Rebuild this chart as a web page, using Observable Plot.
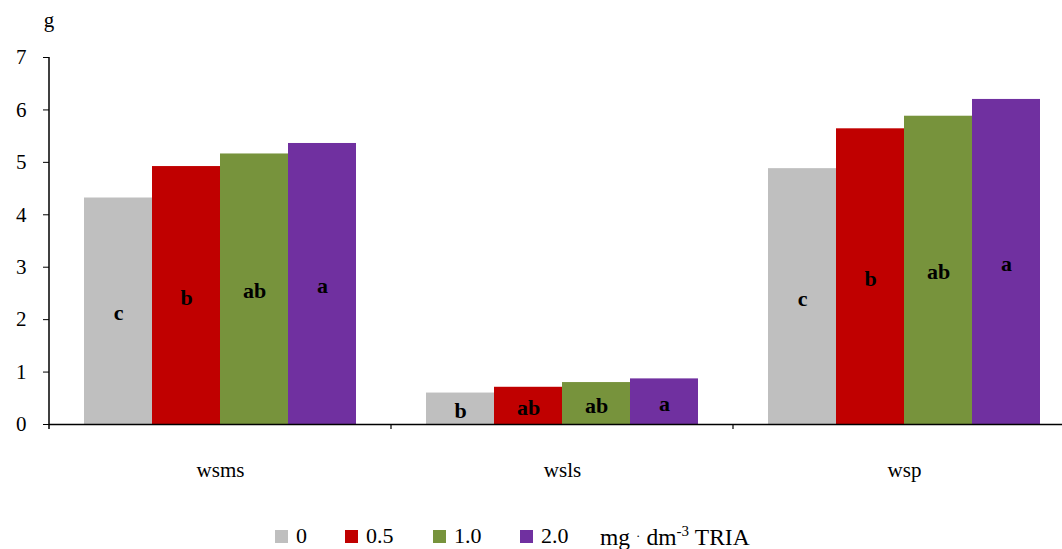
<!DOCTYPE html>
<html>
<head>
<meta charset="utf-8">
<script src="https://cdn.jsdelivr.net/npm/d3@7"></script>
<script src="https://cdn.jsdelivr.net/npm/@observablehq/plot@0.6"></script>
<style>
  html, body { margin: 0; padding: 0; background: #fff; }
  #chart { position: relative; width: 1062px; height: 549px; overflow: hidden; font-family: "Liberation Serif", "Times New Roman", serif; }
  #legend { position: absolute; left: 0; top: 517px; width: 1062px; height: 32px; font-size: 22px; color: #000; }
  .item { position: absolute; top: 6px; display: flex; align-items: baseline; }
  .sw { display: inline-block; width: 13px; height: 13px; margin-right: 8px; }
</style>
</head>
<body>
<div id="chart"></div>
<script>
const categories = ["wsms", "wsls", "wsp"];
const treatments = ["0", "0.5", "1.0", "2.0"];
const colors = ["#BFBFBF", "#C00000", "#77933C", "#7030A0"];
const wsms = [4.32, 4.92, 5.16, 5.36];
const wsls = [0.60, 0.71, 0.80, 0.87];
const wsp = [4.88, 5.64, 5.88, 6.20];
const lettersWsms = ["c", "b", "ab", "a"];
const lettersWsls = ["b", "ab", "ab", "a"];
const lettersWsp = ["c", "b", "ab", "a"];
const yTicks = [0, 1, 2, 3, 4, 5, 6, 7];
const unitLabel = "g";

const series = [wsms, wsls, wsp];
const letters = [lettersWsms, lettersWsls, lettersWsp];
const data = [];
categories.forEach((c, i) => treatments.forEach((t, j) => {
  data.push({cat: c, t, v: series[i][j], letter: letters[i][j]});
}));

const plot = Plot.plot({
  width: 1062,
  height: 514,
  marginLeft: 48,
  marginRight: -14,
  marginTop: 57,
  marginBottom: 90,
  style: {fontFamily: "Liberation Serif, Times New Roman, serif", fontSize: "21px", color: "#000", background: "#fff", overflow: "hidden"},
  fx: {domain: categories, padding: 0, label: null},
  x: {domain: treatments, paddingInner: 0, paddingOuter: 0.5, axis: null},
  y: {domain: [0, 7], label: null},
  color: {domain: treatments, range: colors},
  marks: [
    Plot.barY(data, {fx: "cat", x: "t", y: "v", fill: "t", inset: 0}),
    Plot.text(data, {fx: "cat", x: "t", y: d => d.v / 2, dy: 2, text: "letter", fontWeight: "bold", fontSize: 22, fill: "#000"}),
    Plot.ruleY([0], {stroke: "#000", strokeWidth: 1.5}),
    Plot.axisY(yTicks, {tickSize: 6, tickPadding: 17, fontSize: 21, label: null, tickFormat: d => String(d), stroke: "#000"}),
    Plot.axisFx({anchor: "bottom", tickSize: 0, tickPadding: 38, label: null, fontSize: 21})
  ]
});
document.getElementById("chart").appendChild(plot);

// axis line and category separators from the plot's scales
const svg = d3.select(plot);
const fx = plot.scale("fx");
const y = plot.scale("y");
const y0 = y.apply(0), y7 = y.apply(7);
const xLeft = fx.apply(categories[0]);
svg.append("line").attr("x1", xLeft).attr("x2", xLeft).attr("y1", y7).attr("y2", y0 + 5)
  .attr("stroke", "#000").attr("stroke-width", 1.5);
categories.slice(1).forEach(c => {
  const xb = fx.apply(c);
  svg.append("line").attr("x1", xb).attr("x2", xb).attr("y1", y0).attr("y2", y0 + 5)
    .attr("stroke", "#000").attr("stroke-width", 1.2);
});
svg.append("text").attr("x", xLeft).attr("y", 27).attr("text-anchor", "middle")
  .attr("font-size", 21).attr("fill", "#000").text(unitLabel);

// legend
const legend = document.createElement("div");
legend.id = "legend";
const lefts = [275, 345, 433, 520];
treatments.forEach((t, i) => {
  const it = document.createElement("div");
  it.className = "item";
  it.style.left = lefts[i] + "px";
  it.innerHTML = `<span class="sw" style="background:${colors[i]}"></span><span>${t}</span>`;
  legend.appendChild(it);
});
const u = document.createElement("div");
u.className = "item";
u.style.left = "600px";
u.style.fontSize = "23.5px";
u.innerHTML = `<span>mg<span style="font-size:13px;vertical-align:5px;margin:0 6px">·</span>dm<sup style="font-size:15px;vertical-align:9px">-3</sup>&nbsp;TRIA</span>`;
legend.appendChild(u);
document.getElementById("chart").appendChild(legend);
</script>
</body>
</html>
